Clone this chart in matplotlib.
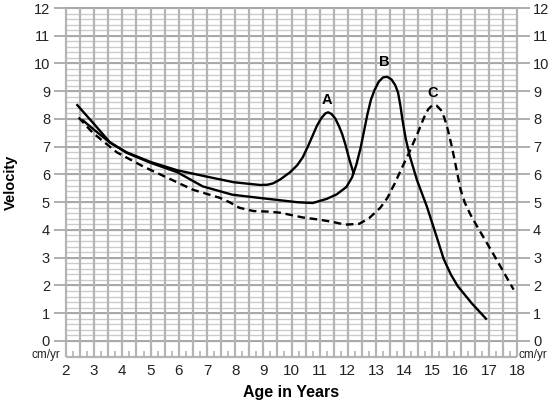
import numpy as np
import matplotlib.pyplot as plt

# curve A (early, solid)
age_a = [2.6, 2.95, 3.3, 3.6, 4.15, 5.0, 5.95, 7.0, 7.95, 8.6, 8.9, 9.15, 9.35, 9.6,
         9.95, 10.2, 10.4, 10.6, 10.75, 10.9, 11.05, 11.2, 11.3, 11.42, 11.55,
         11.68, 11.8, 11.92, 12.05, 12.2]
vel_a = [7.95, 7.65, 7.36, 7.12, 6.8, 6.45, 6.15, 5.92, 5.72, 5.65, 5.62, 5.63, 5.68, 5.82,
         6.08, 6.33, 6.62, 7.05, 7.4, 7.75, 8.02, 8.2, 8.24, 8.18, 8.02,
         7.75, 7.45, 7.05, 6.55, 6.05]

# curve B (average, solid)
age_b = [2.4, 2.95, 3.55, 4.15, 5.0, 5.95, 6.85, 7.9, 8.9, 9.6, 10.2, 10.75, 11.25,
         11.6, 11.95, 12.15, 12.3, 12.45, 12.58, 12.7, 12.82, 12.95, 13.1, 13.25,
         13.4, 13.55, 13.68, 13.78, 13.86, 13.94, 14.05, 14.2, 14.45, 14.8,
         15.15, 15.4, 15.65, 15.9, 16.4, 16.9]
vel_b = [8.5, 7.87, 7.17, 6.78, 6.42, 6.08, 5.57, 5.27, 5.15, 5.07, 5.0, 4.97, 5.12,
         5.28, 5.55, 5.9, 6.35, 6.95, 7.6, 8.2, 8.7, 9.05, 9.35, 9.5,
         9.52, 9.42, 9.22, 8.95, 8.5, 7.95, 7.3, 6.65, 5.8, 4.85,
         3.75, 2.95, 2.4, 1.97, 1.35, 0.8]

# curve C (late, dashed)
age_c = [2.45, 2.95, 3.8, 4.75, 5.6, 6.5, 7.45, 7.8, 8.15, 8.65, 9.2, 9.6, 10.4, 11.0,
         11.5, 11.9, 12.4, 12.75, 13.15, 13.4, 13.65, 13.9, 14.2, 14.5, 14.7, 14.85,
         15.0, 15.15, 15.3, 15.42, 15.55, 15.7, 15.85, 16.0, 16.15, 16.35, 16.6,
         17.15, 17.88]
vel_c = [8.05, 7.5, 6.8, 6.28, 5.88, 5.45, 5.16, 5.0, 4.8, 4.68, 4.66, 4.62, 4.45, 4.37,
         4.28, 4.19, 4.22, 4.42, 4.8, 5.15, 5.65, 6.2, 6.85, 7.55, 8.05, 8.35,
         8.5, 8.48, 8.32, 8.05, 7.6, 6.95, 6.2, 5.45, 4.98, 4.55, 4.1,
         3.15, 1.85]

peak_labels = ["A", "B", "C"]
peak_x = [11.27, 13.3, 15.0]
peak_y = [8.68, 10.05, 8.95]

x_ticks = list(range(2, 19))
y_ticks = list(range(0, 13))

plt.rcParams["font.family"] = ["Liberation Sans", "DejaVu Sans"]

fig = plt.figure(figsize=(5.5, 4.03), dpi=100)
ax = fig.add_axes([66 / 550, 46 / 403, 451 / 550, 349 / 403])
ax.set_xlim(2, 18)
ax.set_ylim(-0.58, 12)

# paper grid
grid_col = "#b4b4b4"
ax.hlines(np.arange(0, 12.01, 0.2), 2, 18, color="#cccccc", lw=1.0, zorder=1, clip_on=False)
ax.hlines(y_ticks, 2, 18, color="#a8a8a8", lw=1.4, zorder=1, clip_on=False)
ax.vlines(np.arange(2, 18.01, 0.5), -0.58, 12, color=grid_col, lw=1.6, zorder=1, clip_on=False)
ax.hlines(-0.58, 2, 18, color=grid_col, lw=1.6, zorder=1, clip_on=False)
ax.vlines(np.arange(2.25, 18, 0.5), -0.58, -0.38, color=grid_col, lw=1.2, zorder=1)

ax.plot(age_a, vel_a, color="black", lw=1.7, zorder=3, solid_joinstyle="round")
ax.plot(age_b, vel_b, color="black", lw=1.7, zorder=3, solid_joinstyle="round")
ax.plot(age_c, vel_c, color="black", lw=1.7, zorder=3, linestyle=(0, (3.2, 2.0)))

for lab, px, py in zip(peak_labels, peak_x, peak_y):
    ax.text(px, py, lab, ha="center", va="center", fontsize=10.5,
            fontweight="bold", zorder=4)

for s in ax.spines.values():
    s.set_visible(False)

ax.set_xticks(x_ticks)
ax.set_yticks(y_ticks)
ax.tick_params(axis="x", length=0, pad=5, labelsize=11, colors="#222222")
ax.tick_params(axis="y", left=True, right=True, labelleft=True, labelright=True,
               length=9, width=1.3, color="#a8a8a8", pad=2.5, labelsize=10.5,
               labelcolor="#222222")

ax.annotate("cm/yr", xy=(2, -0.5), xytext=(-4, 0), textcoords="offset points",
            ha="right", va="center", fontsize=8.5, color="#222222")
ax.annotate("cm/yr", xy=(18, -0.5), xytext=(1, 0), textcoords="offset points",
            ha="left", va="center", fontsize=8.5, color="#222222")

fig.text(11 / 550, 1 - 182 / 403, "Velocity", rotation=90, ha="center",
         va="center", fontsize=10.5, fontweight="bold")
fig.text(291.5 / 550, 1 - 393 / 403, "Age in Years", ha="center", va="center",
         fontsize=11.5, fontweight="bold")

fig.savefig("out.png", dpi=100)
